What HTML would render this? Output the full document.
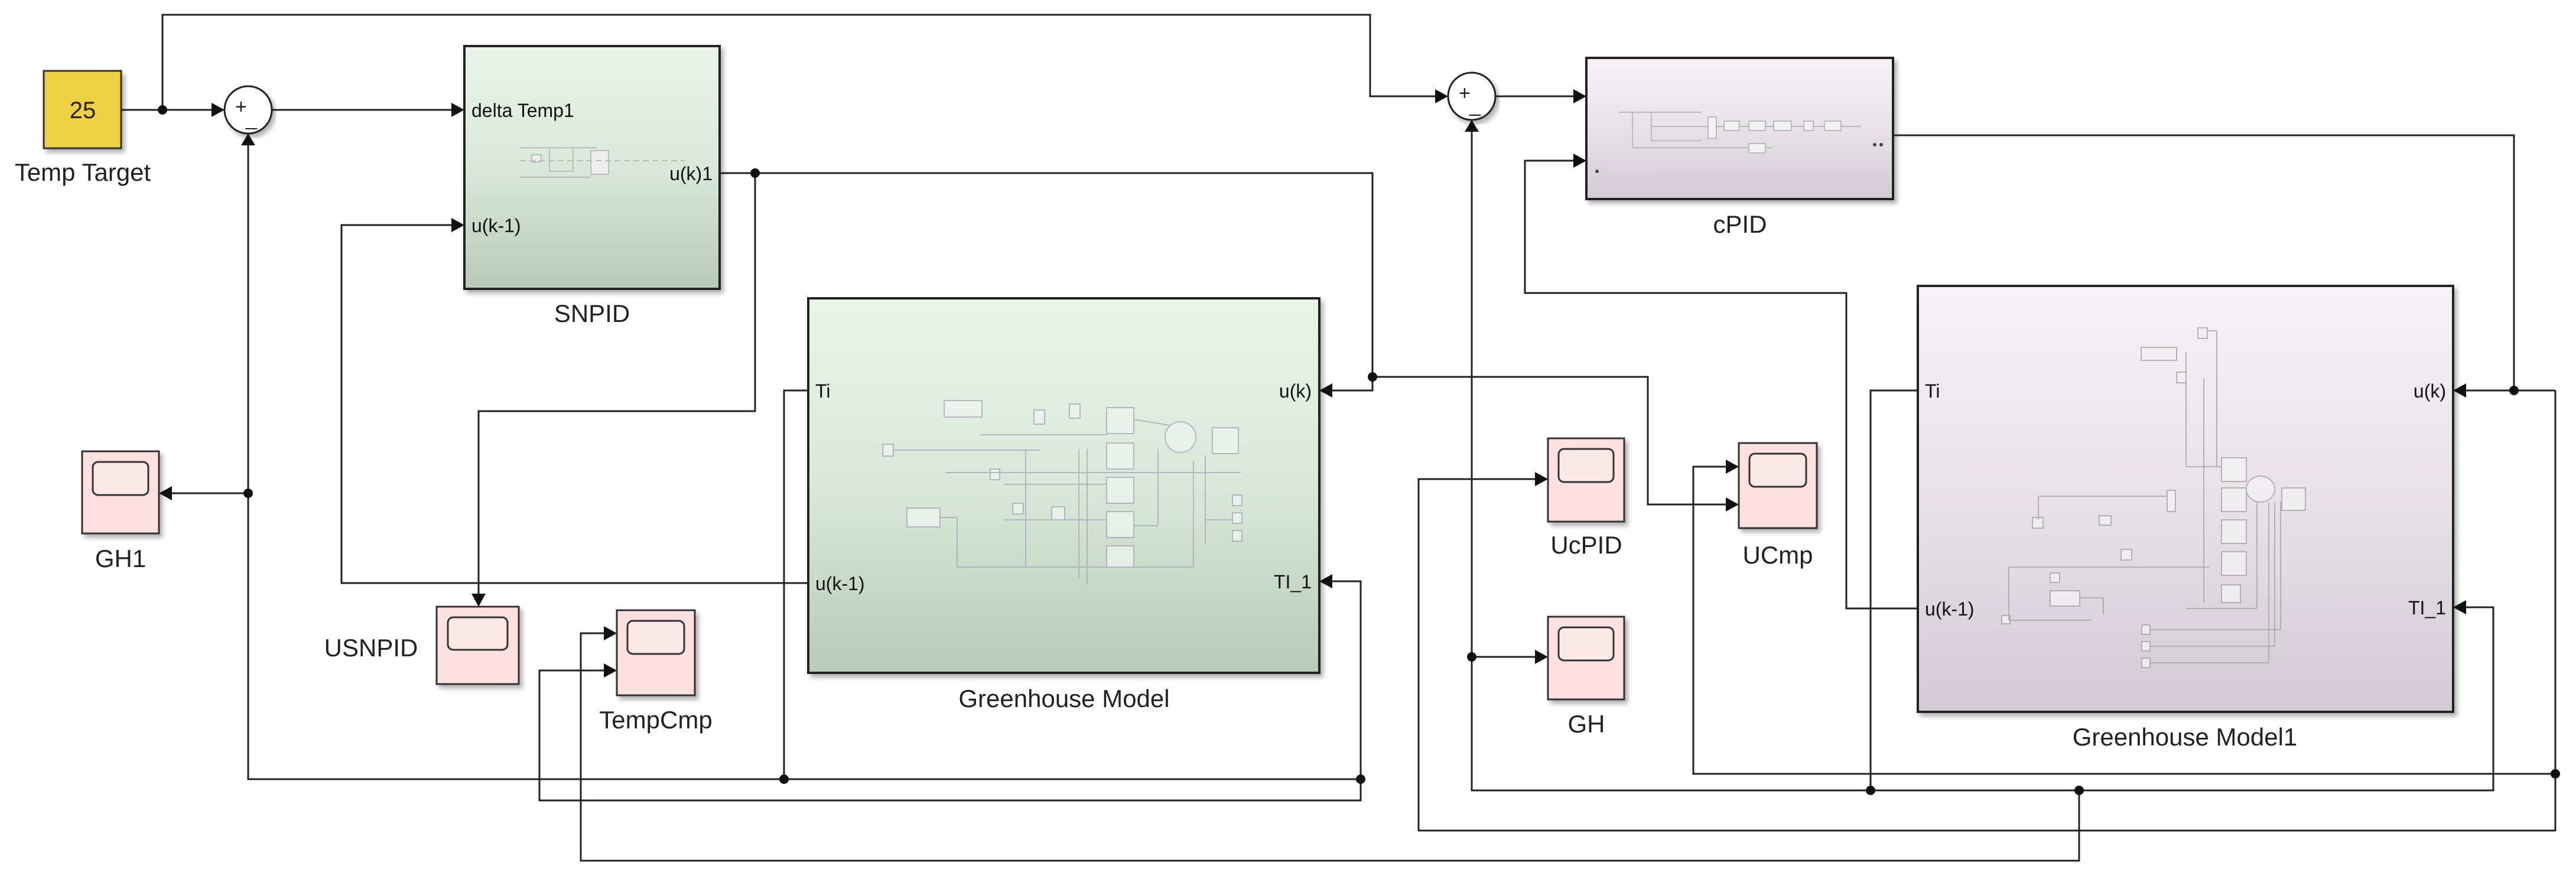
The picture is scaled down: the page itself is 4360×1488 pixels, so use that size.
<!DOCTYPE html>
<html><head><meta charset="utf-8"><style>
html,body{margin:0;padding:0;background:#fff;}
svg{display:block;font-family:"Liberation Sans",sans-serif;}
</style></head><body>
<svg width="4360" height="1488" viewBox="0 0 4360 1488" xmlns="http://www.w3.org/2000/svg">
<defs>
<linearGradient id="gg" x1="0" y1="0" x2="0" y2="1"><stop offset="0" stop-color="#eaf4ea"/><stop offset="0.5" stop-color="#d9e8da"/><stop offset="1" stop-color="#b7cbba"/></linearGradient>
<linearGradient id="pg" x1="0" y1="0" x2="0" y2="1"><stop offset="0" stop-color="#f6f2f6"/><stop offset="0.5" stop-color="#e8e2e8"/><stop offset="1" stop-color="#d2cad4"/></linearGradient>
<filter id="sh" x="-5%" y="-5%" width="115%" height="115%"><feDropShadow dx="5" dy="6" stdDeviation="4" flood-color="#000" flood-opacity="0.3"/></filter>
</defs>

<rect x="74" y="120" width="131" height="131" fill="#efd043" stroke="#333" stroke-width="3" filter="url(#sh)"/>
<text x="140" y="200" font-size="40" text-anchor="middle" fill="#222">25</text>
<text x="140" y="306" font-size="42" text-anchor="middle" fill="#222">Temp Target</text>

<circle cx="420" cy="186" r="40" fill="#fff" stroke="#222" stroke-width="3" filter="url(#sh)"/>
<text x="398" y="192" font-size="34" fill="#222">+</text><text x="416" y="212" font-size="34" fill="#222">_</text>
<circle cx="2491" cy="163" r="40" fill="#fff" stroke="#222" stroke-width="3" filter="url(#sh)"/>
<text x="2469" y="169" font-size="34" fill="#222">+</text><text x="2487" y="189" font-size="34" fill="#222">_</text>

<rect x="786" y="78" width="432" height="411" fill="url(#gg)" stroke="#222" stroke-width="4" filter="url(#sh)"/>
<g stroke="#bbb" stroke-width="2" fill="#eee">
<rect x="900" y="262" width="16" height="12"/><rect x="930" y="250" width="40" height="40" fill="none"/><rect x="1000" y="255" width="30" height="40"/>
<line x1="880" y1="272" x2="1160" y2="272" stroke-dasharray="10 6"/><line x1="880" y1="250" x2="1010" y2="250"/><line x1="880" y1="300" x2="1000" y2="300"/>
</g>
<text x="798" y="198" font-size="32" fill="#111">delta Temp1</text>
<text x="798" y="393" font-size="32" fill="#111">u(k-1)</text>
<text x="1206" y="305" font-size="32" fill="#111" text-anchor="end">u(k)1</text>
<text x="1002" y="545" font-size="42" text-anchor="middle" fill="#222">SNPID</text>

<rect x="2685" y="98" width="519" height="239" fill="url(#pg)" stroke="#222" stroke-width="4" filter="url(#sh)"/>
<g stroke="#bbb" stroke-width="2" fill="#f2f2f2">
<line x1="2740" y1="190" x2="2800" y2="190"/><line x1="2763" y1="190" x2="2763" y2="250"/><line x1="2763" y1="250" x2="3000" y2="250"/>
<line x1="2795" y1="190" x2="2795" y2="238"/><line x1="2795" y1="190" x2="2880" y2="190"/><line x1="2795" y1="214" x2="2890" y2="214"/><line x1="2795" y1="238" x2="2880" y2="238"/>
<line x1="2900" y1="214" x2="3150" y2="214"/>
<rect x="2891" y="198" width="14" height="36"/><rect x="2918" y="205" width="26" height="16"/><rect x="2960" y="205" width="28" height="16"/><rect x="3002" y="205" width="30" height="16"/><rect x="3053" y="205" width="16" height="16"/><rect x="3088" y="205" width="28" height="16"/><rect x="2960" y="243" width="28" height="16"/>
</g>
<circle cx="3173" cy="245" r="3" fill="#444"/><circle cx="3184" cy="245" r="3" fill="#444"/><circle cx="2703" cy="290" r="3" fill="#444"/>
<text x="2945" y="394" font-size="42" text-anchor="middle" fill="#222">cPID</text>

<rect x="1368" y="505" width="865" height="634" fill="url(#gg)" stroke="#222" stroke-width="4" filter="url(#sh)"/>
<g stroke="#aab" stroke-width="2" fill="#eef2ee" opacity="0.8">
<rect x="1598" y="678" width="64" height="28"/><rect x="1750" y="694" width="18" height="24"/><rect x="1810" y="684" width="18" height="24"/>
<rect x="1873" y="690" width="46" height="44"/><rect x="1873" y="750" width="46" height="44"/><rect x="1873" y="808" width="46" height="44"/><rect x="1873" y="866" width="46" height="44"/><rect x="1873" y="924" width="46" height="36"/>
<ellipse cx="1998" cy="740" rx="26" ry="26"/><rect x="2052" y="724" width="44" height="44"/>
<rect x="1535" y="860" width="56" height="32"/><rect x="1494" y="752" width="18" height="20"/><rect x="1676" y="794" width="16" height="18"/><rect x="1714" y="852" width="18" height="18"/><rect x="1780" y="858" width="22" height="22"/>
<rect x="2086" y="838" width="16" height="18"/><rect x="2086" y="868" width="16" height="18"/><rect x="2086" y="898" width="16" height="18"/>
<g fill="none"><line x1="1512" y1="762" x2="1760" y2="762"/><line x1="1600" y1="800" x2="2100" y2="800"/><line x1="1660" y1="736" x2="1873" y2="736"/>
<line x1="1736" y1="760" x2="1736" y2="960"/><line x1="1826" y1="760" x2="1826" y2="980"/><line x1="1840" y1="760" x2="1840" y2="990"/>
<line x1="1591" y1="876" x2="1620" y2="876"/><line x1="1620" y1="876" x2="1620" y2="960"/><line x1="1620" y1="960" x2="2020" y2="960"/><line x1="1919" y1="710" x2="1980" y2="720"/><line x1="2020" y1="780" x2="2020" y2="960"/><line x1="1919" y1="890" x2="1960" y2="890"/><line x1="1960" y1="760" x2="1960" y2="890"/><line x1="2040" y1="770" x2="2040" y2="920"/><line x1="2040" y1="880" x2="2086" y2="880"/><line x1="1700" y1="820" x2="1873" y2="820"/><line x1="1700" y1="880" x2="1873" y2="880"/></g>
</g>
<text x="1380" y="673" font-size="32" fill="#111">Ti</text>
<text x="1380" y="999" font-size="32" fill="#111">u(k-1)</text>
<text x="2220" y="673" font-size="32" fill="#111" text-anchor="end">u(k)</text>
<text x="2220" y="996" font-size="32" fill="#111" text-anchor="end">TI_1</text>
<text x="1801" y="1197" font-size="42" text-anchor="middle" fill="#222">Greenhouse Model</text>

<rect x="3246" y="484" width="906" height="721" fill="url(#pg)" stroke="#222" stroke-width="4" filter="url(#sh)"/>
<g stroke="#aaa" stroke-width="2" fill="#f2f0f2" opacity="0.85">
<rect x="3720" y="555" width="16" height="18"/><rect x="3624" y="588" width="60" height="22"/><rect x="3684" y="630" width="16" height="18"/>
<rect x="3760" y="775" width="42" height="40"/><rect x="3760" y="826" width="42" height="40"/><rect x="3760" y="880" width="42" height="40"/><rect x="3760" y="934" width="42" height="40"/><rect x="3760" y="990" width="32" height="30"/>
<ellipse cx="3826" cy="828" rx="24" ry="22"/><rect x="3862" y="826" width="40" height="38"/>
<rect x="3668" y="830" width="14" height="36"/><rect x="3553" y="873" width="20" height="16"/><rect x="3440" y="876" width="18" height="18"/><rect x="3470" y="970" width="16" height="16"/><rect x="3590" y="930" width="18" height="18"/>
<rect x="3470" y="1000" width="50" height="26"/><rect x="3388" y="1042" width="14" height="14"/>
<rect x="3625" y="1058" width="14" height="16"/><rect x="3625" y="1086" width="14" height="16"/><rect x="3625" y="1114" width="14" height="16"/>
<g fill="none"><line x1="3736" y1="560" x2="3752" y2="560"/><line x1="3752" y1="560" x2="3752" y2="790"/><line x1="3700" y1="596" x2="3700" y2="790"/><line x1="3700" y1="790" x2="3760" y2="790"/><line x1="3730" y1="640" x2="3730" y2="1020"/>
<line x1="3450" y1="840" x2="3668" y2="840"/><line x1="3450" y1="840" x2="3450" y2="880"/><line x1="3400" y1="960" x2="3740" y2="960"/><line x1="3400" y1="960" x2="3400" y2="1050"/><line x1="3400" y1="1050" x2="3540" y2="1050"/>
<line x1="3520" y1="1012" x2="3560" y2="1012"/><line x1="3560" y1="1012" x2="3560" y2="1040"/><line x1="3639" y1="1066" x2="3860" y2="1066"/><line x1="3639" y1="1094" x2="3850" y2="1094"/><line x1="3639" y1="1122" x2="3840" y2="1122"/>
<line x1="3860" y1="850" x2="3860" y2="1066"/><line x1="3850" y1="850" x2="3850" y2="1094"/><line x1="3840" y1="850" x2="3840" y2="1122"/><line x1="3700" y1="1030" x2="3820" y2="1030"/><line x1="3820" y1="850" x2="3820" y2="1030"/></g>
</g>
<text x="3258" y="673" font-size="32" fill="#111">Ti</text>
<text x="3258" y="1042" font-size="32" fill="#111">u(k-1)</text>
<text x="4140" y="673" font-size="32" fill="#111" text-anchor="end">u(k)</text>
<text x="4140" y="1040" font-size="32" fill="#111" text-anchor="end">TI_1</text>
<text x="3698" y="1262" font-size="42" text-anchor="middle" fill="#222">Greenhouse Model1</text>

<g stroke="#333" stroke-width="3" filter="url(#sh)">
<rect x="139" y="764" width="130" height="139" fill="#fde0df"/>
<rect x="739" y="1027" width="139" height="131" fill="#fde0df"/>
<rect x="1044" y="1033" width="132" height="144" fill="#fde0df"/>
<rect x="2620" y="742" width="129" height="141" fill="#fde0df"/>
<rect x="2943" y="750" width="132" height="144" fill="#fde0df"/>
<rect x="2620" y="1044" width="129" height="140" fill="#fde0df"/>
</g>
<g stroke="#333" stroke-width="3" fill="#fde8e8">
<rect x="157" y="782" width="94" height="56" rx="9"/>
<rect x="758" y="1045" width="101" height="55" rx="9"/>
<rect x="1062" y="1051" width="96" height="56" rx="9"/>
<rect x="2638" y="760" width="93" height="56" rx="9"/>
<rect x="2961" y="768" width="96" height="56" rx="9"/>
<rect x="2638" y="1062" width="93" height="56" rx="9"/>
</g>
<g font-size="42" text-anchor="middle" fill="#222">
<text x="204" y="960">GH1</text>
<text x="628" y="1111">USNPID</text>
<text x="1110" y="1233">TempCmp</text>
<text x="2685" y="937">UcPID</text>
<text x="3009" y="954">UCmp</text>
<text x="2685" y="1240">GH</text>
</g>

<g fill="none" stroke="#222" stroke-width="3">
<polyline points="205,186 362,186"/>
<polyline points="275,186 275,25 2319,25 2319,163 2433,163"/>
<polyline points="460,186 768,186"/>
<polyline points="2531,163 2667,163"/>
<polyline points="1218,293 2323,293 2323,661 2251,661"/>
<polyline points="1278,293 1278,696 810,696 810,1009"/>
<polyline points="1368,987 578,987 578,381 768,381"/>
<polyline points="420,244 420,1319 2303,1319"/>
<polyline points="420,835 287,835"/>
<polyline points="1368,661 1327,661 1327,1319"/>
<polyline points="2251,984 2303,984 2303,1355 913,1355 913,1135 1026,1135"/>
<polyline points="1026,1072 983,1072 983,1457 3519,1457 3519,1338"/>
<polyline points="2323,638 2789,638 2789,854 2925,854"/>
<polyline points="3204,229 4255,229 4255,661"/>
<polyline points="4325,661 4170,661"/>
<polyline points="4325,661 4325,1406 2401,1406 2401,811 2602,811"/>
<polyline points="4325,1310 2866,1310 2866,790 2925,790"/>
<polyline points="2491,221 2491,1338 4220,1338 4220,1028 4170,1028"/>
<polyline points="2491,1112 2602,1112"/>
<polyline points="3246,661 3166,661 3166,1338"/>
<polyline points="3246,1030 3125,1030 3125,496 2581,496 2581,272 2667,272"/>
</g>

<g fill="#111">
<polygon points="358,174 380,186 358,198"/>
<polygon points="408,246 420,226 432,246"/>
<polygon points="764,174 786,186 764,198"/>
<polygon points="764,369 786,381 764,393"/>
<polygon points="291,823 269,835 291,847"/>
<polygon points="798,1005 810,1027 822,1005"/>
<polygon points="1022,1060 1044,1072 1022,1084"/>
<polygon points="1022,1123 1044,1135 1022,1147"/>
<polygon points="2255,649 2233,661 2255,673"/>
<polygon points="2255,972 2233,984 2255,996"/>
<polygon points="2429,151 2451,163 2429,175"/>
<polygon points="2479,223 2491,203 2503,223"/>
<polygon points="2663,151 2685,163 2663,175"/>
<polygon points="2663,260 2685,272 2663,284"/>
<polygon points="2598,799 2620,811 2598,823"/>
<polygon points="2598,1100 2620,1112 2598,1124"/>
<polygon points="2921,778 2943,790 2921,802"/>
<polygon points="2921,842 2943,854 2921,866"/>
<polygon points="4174,649 4152,661 4174,673"/>
<polygon points="4174,1016 4152,1028 4174,1040"/>
</g>

<g fill="#111">
<circle cx="275" cy="186" r="8"/>
<circle cx="1278" cy="293" r="8"/>
<circle cx="420" cy="835" r="8"/>
<circle cx="1327" cy="1319" r="8"/>
<circle cx="2303" cy="1319" r="8"/>
<circle cx="2323" cy="638" r="8"/>
<circle cx="4255" cy="661" r="8"/>
<circle cx="4325" cy="1310" r="8"/>
<circle cx="2491" cy="1112" r="8"/>
<circle cx="3166" cy="1338" r="8"/>
<circle cx="3519" cy="1338" r="8"/>
</g>
</svg>
</body></html>
